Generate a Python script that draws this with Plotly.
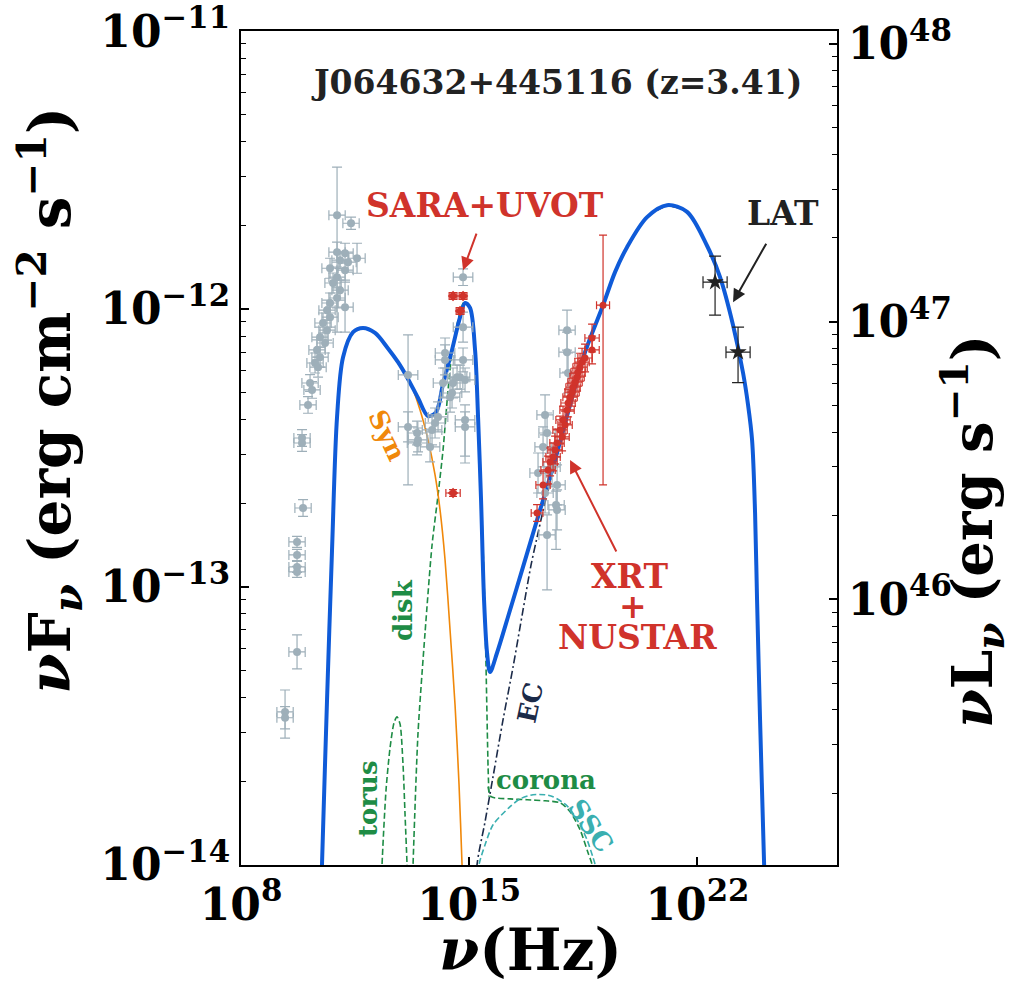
import numpy as np
import plotly.graph_objects as go

# ---------------- model curves: log10(nu/Hz), log10(nuFnu / erg cm^-2 s^-1)
total_lognu = [10.454, 10.485, 10.638, 10.791, 10.945, 11.129, 11.436, 11.742, 12.110, 12.479, 12.816,
               13.092, 13.429, 13.736, 13.982, 14.196, 14.472, 14.718, 14.871, 15.025, 15.178, 15.270,
               15.362, 15.454, 15.546, 15.638, 15.853, 16.252, 16.650, 17.080, 17.632, 18.092, 18.552,
               19.104, 19.472, 19.840, 20.454, 21.067, 21.681, 22.294, 22.693, 23.092, 23.399, 23.552,
               23.675, 23.767, 23.828, 23.920, 24.043, 24.074]
total_logf = [-14.126, -13.993, -13.406, -12.867, -12.388, -12.173, -12.083, -12.068, -12.086, -12.137, -12.191,
              -12.245, -12.320, -12.385, -12.371, -12.270, -12.147, -12.029, -11.978, -11.996, -12.147, -12.388,
              -12.687, -13.047, -13.237, -13.306, -13.237, -13.083, -12.928, -12.759, -12.543, -12.345, -12.155,
              -11.986, -11.867, -11.777, -11.669, -11.626, -11.650, -11.772, -11.885, -12.058, -12.230, -12.345,
              -12.471, -12.734, -13.047, -13.478, -13.993, -14.126]

syn_lognu = [10.454, 10.485, 10.638, 10.791, 10.945, 11.129, 11.436, 11.742, 12.110, 12.479, 12.816,
             13.184, 13.491, 13.736, 13.951, 14.104, 14.258, 14.411, 14.564, 14.687, 14.779, 14.810]
syn_logf = [-14.126, -13.993, -13.406, -12.867, -12.388, -12.173, -12.083, -12.068, -12.086, -12.137, -12.194,
            -12.263, -12.363, -12.471, -12.597, -12.723, -12.903, -13.155, -13.424, -13.712, -14.0, -14.126]

disk_lognu = [13.245, 13.276, 13.429, 13.644, 13.859, 14.043, 14.196, 14.350, 14.472, 14.656, 14.840,
              14.994, 15.147, 15.270, 15.362, 15.454, 15.515, 15.577, 15.607]
disk_logf = [-14.126, -14.0, -13.525, -13.165, -12.849, -12.669, -12.507, -12.291, -12.155, -12.040, -11.975,
             -11.986, -12.112, -12.363, -12.651, -12.975, -13.288, -13.647, -13.755]

corona_lognu = [15.577, 15.669, 16.252, 16.773, 17.325, 17.785, 18.092, 18.399, 18.644, 18.767, 18.798]
corona_logf = [-13.719, -13.755, -13.763, -13.766, -13.770, -13.777, -13.809, -13.874, -13.957, -14.0, -14.126]

torus_lognu = [12.294, 12.325, 12.448, 12.571, 12.693, 12.785, 12.877, 12.969, 13.031, 13.092, 13.123]
torus_logf = [-14.126, -14.0, -13.730, -13.579, -13.489, -13.468, -13.493, -13.640, -13.820, -14.0, -14.126]

ssc_lognu = [15.239, 15.301, 15.485, 15.730, 16.252, 16.558, 16.957, 17.325, 17.571, 18.0, 18.307,
             18.613, 18.798, 18.859, 18.890]
ssc_logf = [-14.126, -14.0, -13.928, -13.856, -13.791, -13.763, -13.748, -13.748, -13.755, -13.788, -13.838,
            -13.910, -13.975, -14.0, -14.126]

ec_lognu = [15.209, 15.239, 15.485, 15.730, 16.037, 16.344, 16.650, 16.896, 17.110, 17.356, 17.632,
            18.092, 18.552, 19.104, 19.472, 19.840, 20.454, 21.067, 21.681, 22.294, 22.693, 23.092,
            23.399, 23.552, 23.675, 23.767, 23.828, 23.920, 24.043, 24.074]
ec_logf = [-14.126, -14.0, -13.845, -13.683, -13.478, -13.288, -13.083, -12.921, -12.806, -12.680, -12.554,
           -12.350, -12.160, -11.990, -11.870, -11.780, -11.672, -11.630, -11.653, -11.775, -11.888, -12.061,
           -12.233, -12.348, -12.474, -12.737, -13.050, -13.481, -13.996, -14.129]

# ---------------- archival data (grey)
gray_lognu = [10.945, 11.374, 10.945, 11.190, 11.037, 11.558, 11.282, 10.730, 11.190, 10.945, 10.822, 11.037,
              11.190, 10.945, 10.730, 10.638, 10.730, 10.515, 10.638, 10.423, 10.577, 10.331, 10.423, 10.270,
              10.362, 10.117, 10.178, 10.055, 9.871, 9.871, 9.902, 9.718, 9.718, 9.718, 9.718, 9.718, 9.350, 9.350,
              13.123, 13.123, 13.399, 13.429, 13.399, 13.798, 13.859, 13.951, 14.043, 14.196, 14.258, 14.258,
              14.411, 14.472, 14.503, 14.626, 14.718, 14.871, 14.810, 14.810, 14.810, 14.871, 14.871,
              18.0, 18.0, 18.031, 17.325, 17.387, 17.264, 17.110, 17.540, 17.693, 17.693, 17.325, 17.387, 17.663]
gray_logf = [-11.662, -11.691, -11.795, -11.799, -11.824, -11.817, -11.831, -11.853, -11.860, -11.885, -11.906,
             -11.932, -11.993, -11.960, -11.978, -12.004, -12.029, -12.050, -12.076, -12.101, -12.122, -12.147,
             -12.173, -12.194, -12.209, -12.266, -12.291, -12.345, -12.464, -12.482, -12.716, -12.838, -12.885,
             -12.928, -12.946, -13.234, -13.450, -13.471,
             -12.237, -12.424, -12.446, -12.471, -12.482, -12.496, -12.435, -12.410, -12.388, -12.266, -12.183,
             -12.158, -12.317, -12.302, -12.266, -12.245, -12.245, -12.255, -12.183, -12.065, -11.885, -12.399, -12.424,
             -12.076, -12.155, -12.230, -12.381, -12.446, -12.496, -12.590, -12.568, -12.633, -12.723, -12.662,
             -12.813, -12.705]
gray_dup = [0.173, 0.022, 0.036, 0.036, 0.03, 0.054, 0.036, 0.036, 0.036, 0.036, 0.036, 0.036,
            0.09, 0.036, 0.036, 0.036, 0.036, 0.036, 0.036, 0.036, 0.036, 0.036, 0.036, 0.036,
            0.036, 0.03, 0.03, 0.03, 0.03, 0.03, 0.03, 0.02, 0.02, 0.02, 0.02, 0.061, 0.079, 0.04,
            0.144, 0.054, 0.043, 0.043, 0.043, 0.054, 0.054, 0.054, 0.054, 0.054, 0.054, 0.054,
            0.054, 0.054, 0.054, 0.043, 0.043, 0.043, 0.043, 0.054, 0.03, 0.054, 0.054,
            0.072, 0.072, 0.072, 0.072, 0.072, 0.072, 0.072, 0.072, 0.072, 0.072, 0.072, 0.072, 0.05]
gray_ddn = [0.421, 0.022, 0.036, 0.036, 0.03, 0.054, 0.036, 0.036, 0.036, 0.036, 0.036, 0.036,
            0.09, 0.036, 0.036, 0.036, 0.036, 0.036, 0.036, 0.036, 0.036, 0.036, 0.036, 0.036,
            0.036, 0.03, 0.03, 0.03, 0.03, 0.03, 0.03, 0.02, 0.02, 0.02, 0.02, 0.061, 0.094, 0.04,
            0.396, 0.054, 0.043, 0.043, 0.043, 0.054, 0.054, 0.054, 0.054, 0.054, 0.054, 0.054,
            0.054, 0.054, 0.054, 0.043, 0.043, 0.043, 0.043, 0.054, 0.03, 0.13, 0.13,
            0.072, 0.072, 0.072, 0.072, 0.072, 0.072, 0.072, 0.072, 0.072, 0.072, 0.072, 0.198, 0.16]
gray_dnu = [0.25] * 38 + [0.3] * 23 + [0.25] * 13

# ---------------- XRT + NuSTAR (red)
xray_lognu = [17.080, 17.264, 17.417, 17.479, 17.571, 17.632, 17.693, 17.785, 17.847, 17.877, 17.939, 18.0,
              18.031, 18.092, 18.153, 18.184, 18.245, 18.307, 18.337, 18.399, 18.460, 18.552, 18.767, 18.767, 19.104]
xray_logf = [-12.734, -12.633, -12.579, -12.550, -12.532, -12.507, -12.482, -12.435, -12.460, -12.399, -12.417,
             -12.363, -12.338, -12.317, -12.299, -12.281, -12.263, -12.245, -12.227, -12.209, -12.191, -12.176,
             -12.147, -12.104, -11.986]
xray_dup = [0.03] + [0.05] * 23 + [0.252]
xray_ddn = [0.03] + [0.05] * 23 + [0.647]
xray_dnu = [0.18] + [0.22] * 23 + [0.2]

# ---------------- SARA + UVOT (red diamonds)
opt_lognu = [14.503, 14.810, 14.718, 14.503]
opt_logf = [-11.953, -11.953, -12.007, -12.662]
opt_dnu = [0.12, 0.12, 0.12, 0.22]
opt_df = [0.012, 0.012, 0.012, 0.012]

# ---------------- Fermi-LAT (black stars)
lat_lognu = [22.540, 23.245]
lat_logf = [-11.903, -12.155]
lat_dup = [0.094, 0.09]
lat_ddn = [0.119, 0.11]
lat_dnu = [0.37, 0.37]

# log10(4 pi d_L^2) for z = 3.41  (nuL_nu = nuF_nu * 4 pi d_L^2)
log_lum_factor = 59.045

FONT = "DejaVu Serif"
BLUE = "#0f5bd8"
ORANGE = "#f0880a"
GREEN = "#1e8c45"
TEAL = "#3aafb0"
NAVY = "#1b2a48"
RED = "#d0332b"
GRAY = "#9eafb9"
BLACK = "#222222"


def lin(a):
    return np.power(10.0, np.asarray(a, dtype=float))


def errs(logv, dup, ddn):
    v = lin(logv)
    return v * (np.power(10.0, np.asarray(dup)) - 1), v * (1 - np.power(10.0, -np.asarray(ddn)))


fig = go.Figure()


def add_line(lognu, logf, color, width, dash, smooth=0.7):
    fig.add_trace(go.Scatter(x=lin(lognu), y=lin(logf), mode="lines",
                             line=dict(color=color, width=width, dash=dash, shape="spline", smoothing=smooth),
                             showlegend=False, hoverinfo="skip"))


add_line(torus_lognu, torus_logf, GREEN, 1.6, "6px,3px")
add_line(disk_lognu, disk_logf, GREEN, 1.6, "6px,3px")
add_line(corona_lognu, corona_logf, GREEN, 1.6, "6px,3px")
add_line(ssc_lognu, ssc_logf, TEAL, 1.6, "6px,3px")
add_line(syn_lognu, syn_logf, ORANGE, 1.6, "solid")
add_line(ec_lognu, ec_logf, NAVY, 1.6, "8px,3px,2px,3px", 0.9)
add_line(total_lognu, total_logf, BLUE, 4, "solid", 0.9)


def add_points(lognu, logf, dup, ddn, dnu, color, symbol, size, capw):
    yp, ym = errs(logf, dup, ddn)
    xp, xm = errs(lognu, dnu, dnu)
    fig.add_trace(go.Scatter(
        x=lin(lognu), y=lin(logf), mode="markers",
        marker=dict(color=color, symbol=symbol, size=size, line=dict(width=0)),
        error_y=dict(type="data", symmetric=False, array=yp, arrayminus=ym, color=color, thickness=1.2, width=capw),
        error_x=dict(type="data", symmetric=False, array=xp, arrayminus=xm, color=color, thickness=1.2, width=capw),
        showlegend=False, hoverinfo="skip"))


add_points(gray_lognu, gray_logf, gray_dup, gray_ddn, gray_dnu, GRAY, "circle", 8, 5)
add_points(xray_lognu, xray_logf, xray_dup, xray_ddn, xray_dnu, RED, "circle", 7, 4)
add_points(opt_lognu, opt_logf, opt_df, opt_df, opt_dnu, RED, "diamond", 8, 4)
add_points(lat_lognu, lat_logf, lat_dup, lat_ddn, lat_dnu, BLACK, "star", 13, 6)

# invisible trace to carry the luminosity axis
fig.add_trace(go.Scatter(x=[1e9], y=[1e46], yaxis="y2", mode="markers", marker=dict(opacity=0),
                         showlegend=False, hoverinfo="skip"))

tickfont = dict(family=FONT, size=44, color="black", weight="bold")

y_major = [-14, -13, -12, -11]
y2_major = [46, 47, 48]
x_major = [8, 15, 22]

fig.update_layout(
    width=1020, height=987,
    margin=dict(l=241, r=183, t=31, b=122, autoexpand=False),
    paper_bgcolor="white", plot_bgcolor="white",
    xaxis=dict(type="log", range=[7.999, 26.28], tickvals=[10.0 ** e for e in x_major],
               ticktext=["10<sup>%d</sup>" % e for e in x_major],
               ticks="inside", ticklen=8, tickwidth=1.5, tickcolor="black",
               showline=True, linewidth=2, linecolor="black", mirror=True, automargin=False,
               showgrid=False, zeroline=False, tickfont=tickfont, ticklabeloverflow="allow"),
    yaxis=dict(type="log", range=[-14.001, -10.999], tickvals=[10.0 ** e for e in y_major],
               ticktext=["10<sup>\u2212%d</sup>" % -e for e in y_major],
               ticks="inside", ticklen=8, tickwidth=1.5, tickcolor="black",
               minor=dict(tickvals=[k * 10.0 ** e for e in range(-14, -11) for k in range(2, 10)],
                          ticks="inside", ticklen=5, tickwidth=1.2, tickcolor="black", showgrid=False),
               showline=True, linewidth=2, linecolor="black", mirror=False, automargin=False,
               showgrid=False, zeroline=False, tickfont=tickfont, ticklabeloverflow="allow"),
    yaxis2=dict(type="log", overlaying="y", side="right",
                range=[-14.001 + log_lum_factor, -10.999 + log_lum_factor],
                tickvals=[10.0 ** e for e in y2_major],
                ticktext=["10<sup>%d</sup>" % e for e in y2_major],
                ticks="inside", ticklen=8, tickwidth=1.5, tickcolor="black",
                minor=dict(tickvals=[k * 10.0 ** e for e in range(45, 48) for k in range(2, 10)],
                           ticks="inside", ticklen=5, tickwidth=1.2, tickcolor="black", showgrid=False),
                showline=True, linewidth=2, linecolor="black", automargin=False,
                showgrid=False, zeroline=False, tickfont=tickfont, ticklabeloverflow="allow"),
)

ann = []


def text(x, y, s, color, size, angle=0, xref="x", yref="y"):
    ann.append(dict(x=x, y=y, xref=xref, yref=yref, text=s, showarrow=False, textangle=angle,
                    font=dict(family=FONT, size=size, color=color, weight="bold"),
                    xanchor="center", yanchor="middle"))


def arrow(x0, y0, x1, y1, color):
    ann.append(dict(x=x1, y=y1, ax=x0, ay=y0, xref="x", yref="y", axref="x", ayref="y", text="",
                    showarrow=True, arrowhead=2, arrowsize=1.3, arrowwidth=2, arrowcolor=color))


text(17.663, -11.183, "J064632+445116 (z=3.41)", BLACK, 33)
text(15.485, -11.626, "SARA+UVOT", RED, 33)
arrow(15.239, -11.723, 14.810, -11.860, RED)
text(24.626, -11.655, "LAT", BLACK, 33)
arrow(24.135, -11.759, 23.092, -11.975, BLACK)
text(19.902, -12.964, "XRT", RED, 33)
text(20.025, -13.072, "+", RED, 33)
text(20.147, -13.183, "NUSTAR", RED, 33)
arrow(19.534, -12.878, 18.092, -12.543, RED)
text(12.479, -12.453, "Syn", ORANGE, 26, 65)
text(12.969, -13.083, "disk", GREEN, 26, -90)
text(11.896, -13.763, "torus", GREEN, 26, -90)
text(16.865, -13.417, "EC", NAVY, 26, -78)
text(17.356, -13.694, "corona", GREEN, 26, 0)
text(18.736, -13.860, "SSC", TEAL, 26, 55)

# axis titles
text(-0.32, 0.557, "<i>\u03bd</i>F<sub><i>\u03bd</i></sub> (erg cm<sup>\u22122</sup> s<sup>\u22121</sup>)",
     "black", 58, -90, "paper", "paper")
text(1.226, 0.40, "<i>\u03bd</i>L<sub><i>\u03bd</i></sub> (erg s<sup>\u22121</sup>)",
     "black", 56, -90, "paper", "paper")
text(0.485, -0.102, "<i>\u03bd</i>(Hz)", "black", 58, 0, "paper", "paper")

fig.update_layout(annotations=ann)
fig.write_html("out.html")
